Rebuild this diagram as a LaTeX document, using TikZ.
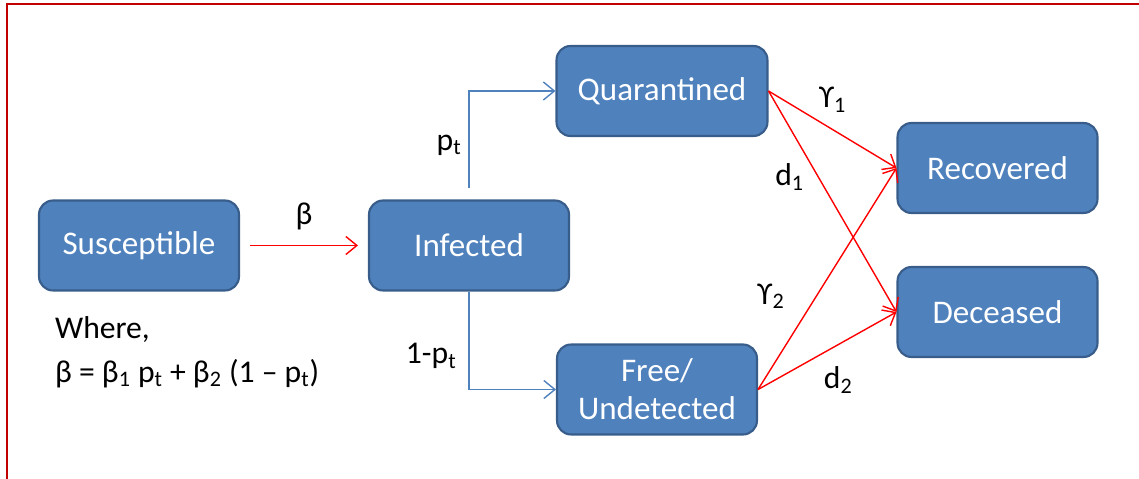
\documentclass[tikz,border=0pt]{standalone}
\usepackage{fontspec}
\setmainfont{Carlito}
\usepackage{tikz}
\usetikzlibrary{calc,positioning,arrows.meta}

\definecolor{boxblue}{HTML}{4F81BD}
\definecolor{boxedge}{HTML}{385D8A}
\definecolor{frmred}{HTML}{C00000}

\begin{document}
\begin{tikzpicture}[x=0.02cm,y=-0.02cm]
\tikzstyle{box}=[draw=boxedge, line width=1.2pt, fill=boxblue, rounded corners=0.28cm, text=white, minimum width=4cm, minimum height=1.8cm, align=center, font=\fontsize{18.8}{21.5}\selectfont]
\tikzstyle{lbl}=[inner sep = 1pt, text=black, font=\fontsize{18}{22}\selectfont]
\tikzstyle{flow}=[red, line width=0.8pt, -{Straight Barb[length=2.2mm, width=3.6mm]}]
\tikzstyle{split}=[boxblue, line width=0.8pt, -{Straight Barb[length=2.2mm, width=3.6mm]}]

\useasboundingbox (0,0) rectangle (1139,479);
\draw[frmred, line width=1.6pt] (7,479) -- (7,4) -- (1139,4);

\node[box] (S) at (139,245.5) {Susceptible};
\node[box] (I) at (469,245.5) {Infected};
\node[box, minimum width=4.22cm] (Q) at (662,91) {Quarantined};
\node[box] (F) at (657,389.5) {Free/\\Undetected};
\node[box] (R) at (997.5,168) {Recovered};
\node[box] (D) at (997.5,312) {Deceased};

\draw[flow, shorten <=0.2cm, shorten >=0.2cm] (S) -- node[lbl, above=0.26cm] {β} (I);
\draw[split, shorten <=0.22cm] (I.north) |- node[lbl, left=0.1cm, pos=0.25] {p\textsubscript{t}} (Q.west);
\draw[split] (I.south) |- node[lbl, left=0.2cm, pos=0.33] {1-p\textsubscript{t}} (F.west);

\draw[flow] (Q.east) -- node[lbl, above=0.3cm] {ϒ\textsubscript{1}} (R.west);
\draw[flow] (Q.east) -- node[lbl, left=0.24cm, pos=0.39] {d\textsubscript{1}} (D.west);
\draw[flow] (F.east) -- node[lbl, left=0.58cm, pos=0.42] {ϒ\textsubscript{2}} (R.west);
\draw[flow] (F.east) -- node[lbl, below=0.4cm, pos=0.58] {d\textsubscript{2}} (D.west);

\node[lbl, anchor=west, align=left, font=\fontsize{18}{25}\selectfont] (W) at (53,352) {Where,\\β = β\textsubscript{1} p\textsubscript{t} + β\textsubscript{2} (1 – p\textsubscript{t})};
\end{tikzpicture}
\end{document}
